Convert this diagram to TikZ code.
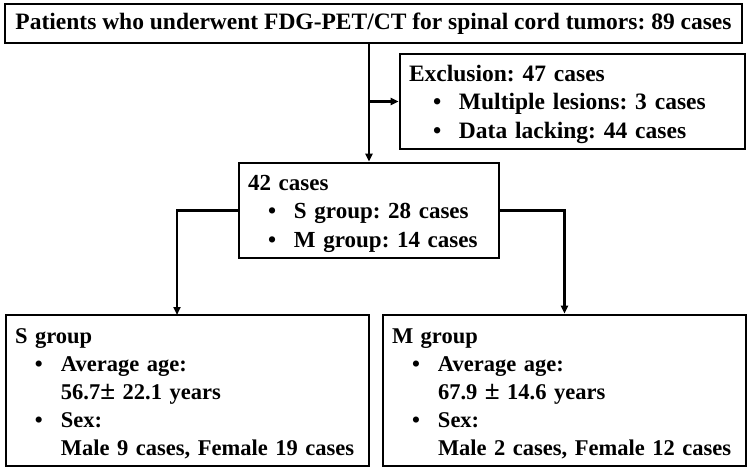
\documentclass[tikz,border=0pt]{standalone}
\usepackage{fontspec}
\setmainfont{Liberation Serif}
\usetikzlibrary{arrows.meta}
\frenchspacing
\newcommand{\bitem}[2][20pt]{\hspace*{#1}\makebox[26pt][l]{\textbullet}\mbox{#2}}
\newcommand{\firstline}{\rule{0pt}{22pt}}
\newcommand{\pmbig}{{\fontsize{27}{28}\selectfont ±}}
\tikzset{
  boxstyle/.style={draw, line width=2.7pt, inner xsep=9pt, inner ysep=0pt, align=left,
    font=\fontsize{23.5}{28.5}\selectfont\bfseries},
  groupbox/.style={boxstyle, minimum width=363pt, minimum height=151pt, text width=345pt,
    font=\fontsize{22.5}{28}\selectfont\bfseries},
  conn/.style={line width=2.3pt, -{Triangle[length=8pt,width=7pt]}}
}
\begin{document}
\begin{tikzpicture}[x=1pt,y=-1pt]
\useasboundingbox (0,0) rectangle (750,475);
\node[boxstyle, minimum width=737pt, minimum height=39pt, align=center] (top) at (373.5,23.5)
  {\frenchspacing Patients who underwent FDG-PET/CT for spinal cord tumors: 89 cases};
\node[boxstyle, minimum width=345pt, minimum height=95pt, text width=327pt] (excl) at (572.5,101.5)
  {\frenchspacing\firstline Exclusion: 47 cases\\ \bitem[24pt]{Multiple lesions: 3 cases}\\ \bitem[24pt]{Data lacking: 44 cases}};
\node[boxstyle, minimum width=260pt, minimum height=95pt, text width=242pt,
      font=\fontsize{23}{28.5}\selectfont\bfseries] (mid) at (369,210.5)
  {\frenchspacing\firstline 42 cases\\ \bitem{S group: 28 cases}\\ \bitem{M group: 14 cases}};
\node[groupbox] (sbox) at (187.5,390.5)
  {\frenchspacing\firstline S group\\ \bitem{Average age:}\\ \hspace*{46pt}\mbox{56.7\pmbig{} 22.1 years}\\ \bitem{Sex:}\\ \hspace*{46pt}\mbox{Male 9 cases, Female 19 cases}};
\node[groupbox] (mbox) at (564.5,390.5)
  {\frenchspacing\firstline M group\\ \bitem{Average age:}\\ \hspace*{46pt}\mbox{67.9 \pmbig{} 14.6 years}\\ \bitem{Sex:}\\ \hspace*{46pt}\mbox{Male 2 cases, Female 12 cases}};
\coordinate (sin) at (177,315);
\draw[conn] (mid.north |- top.south) -- (mid.north);
\draw[conn] (mid.north |- excl.west) -- (excl.west);
\draw[conn] (mid.west) -| (sin);
\draw[conn] (mid.east) -| (mbox.north);
\end{tikzpicture}
\end{document}
